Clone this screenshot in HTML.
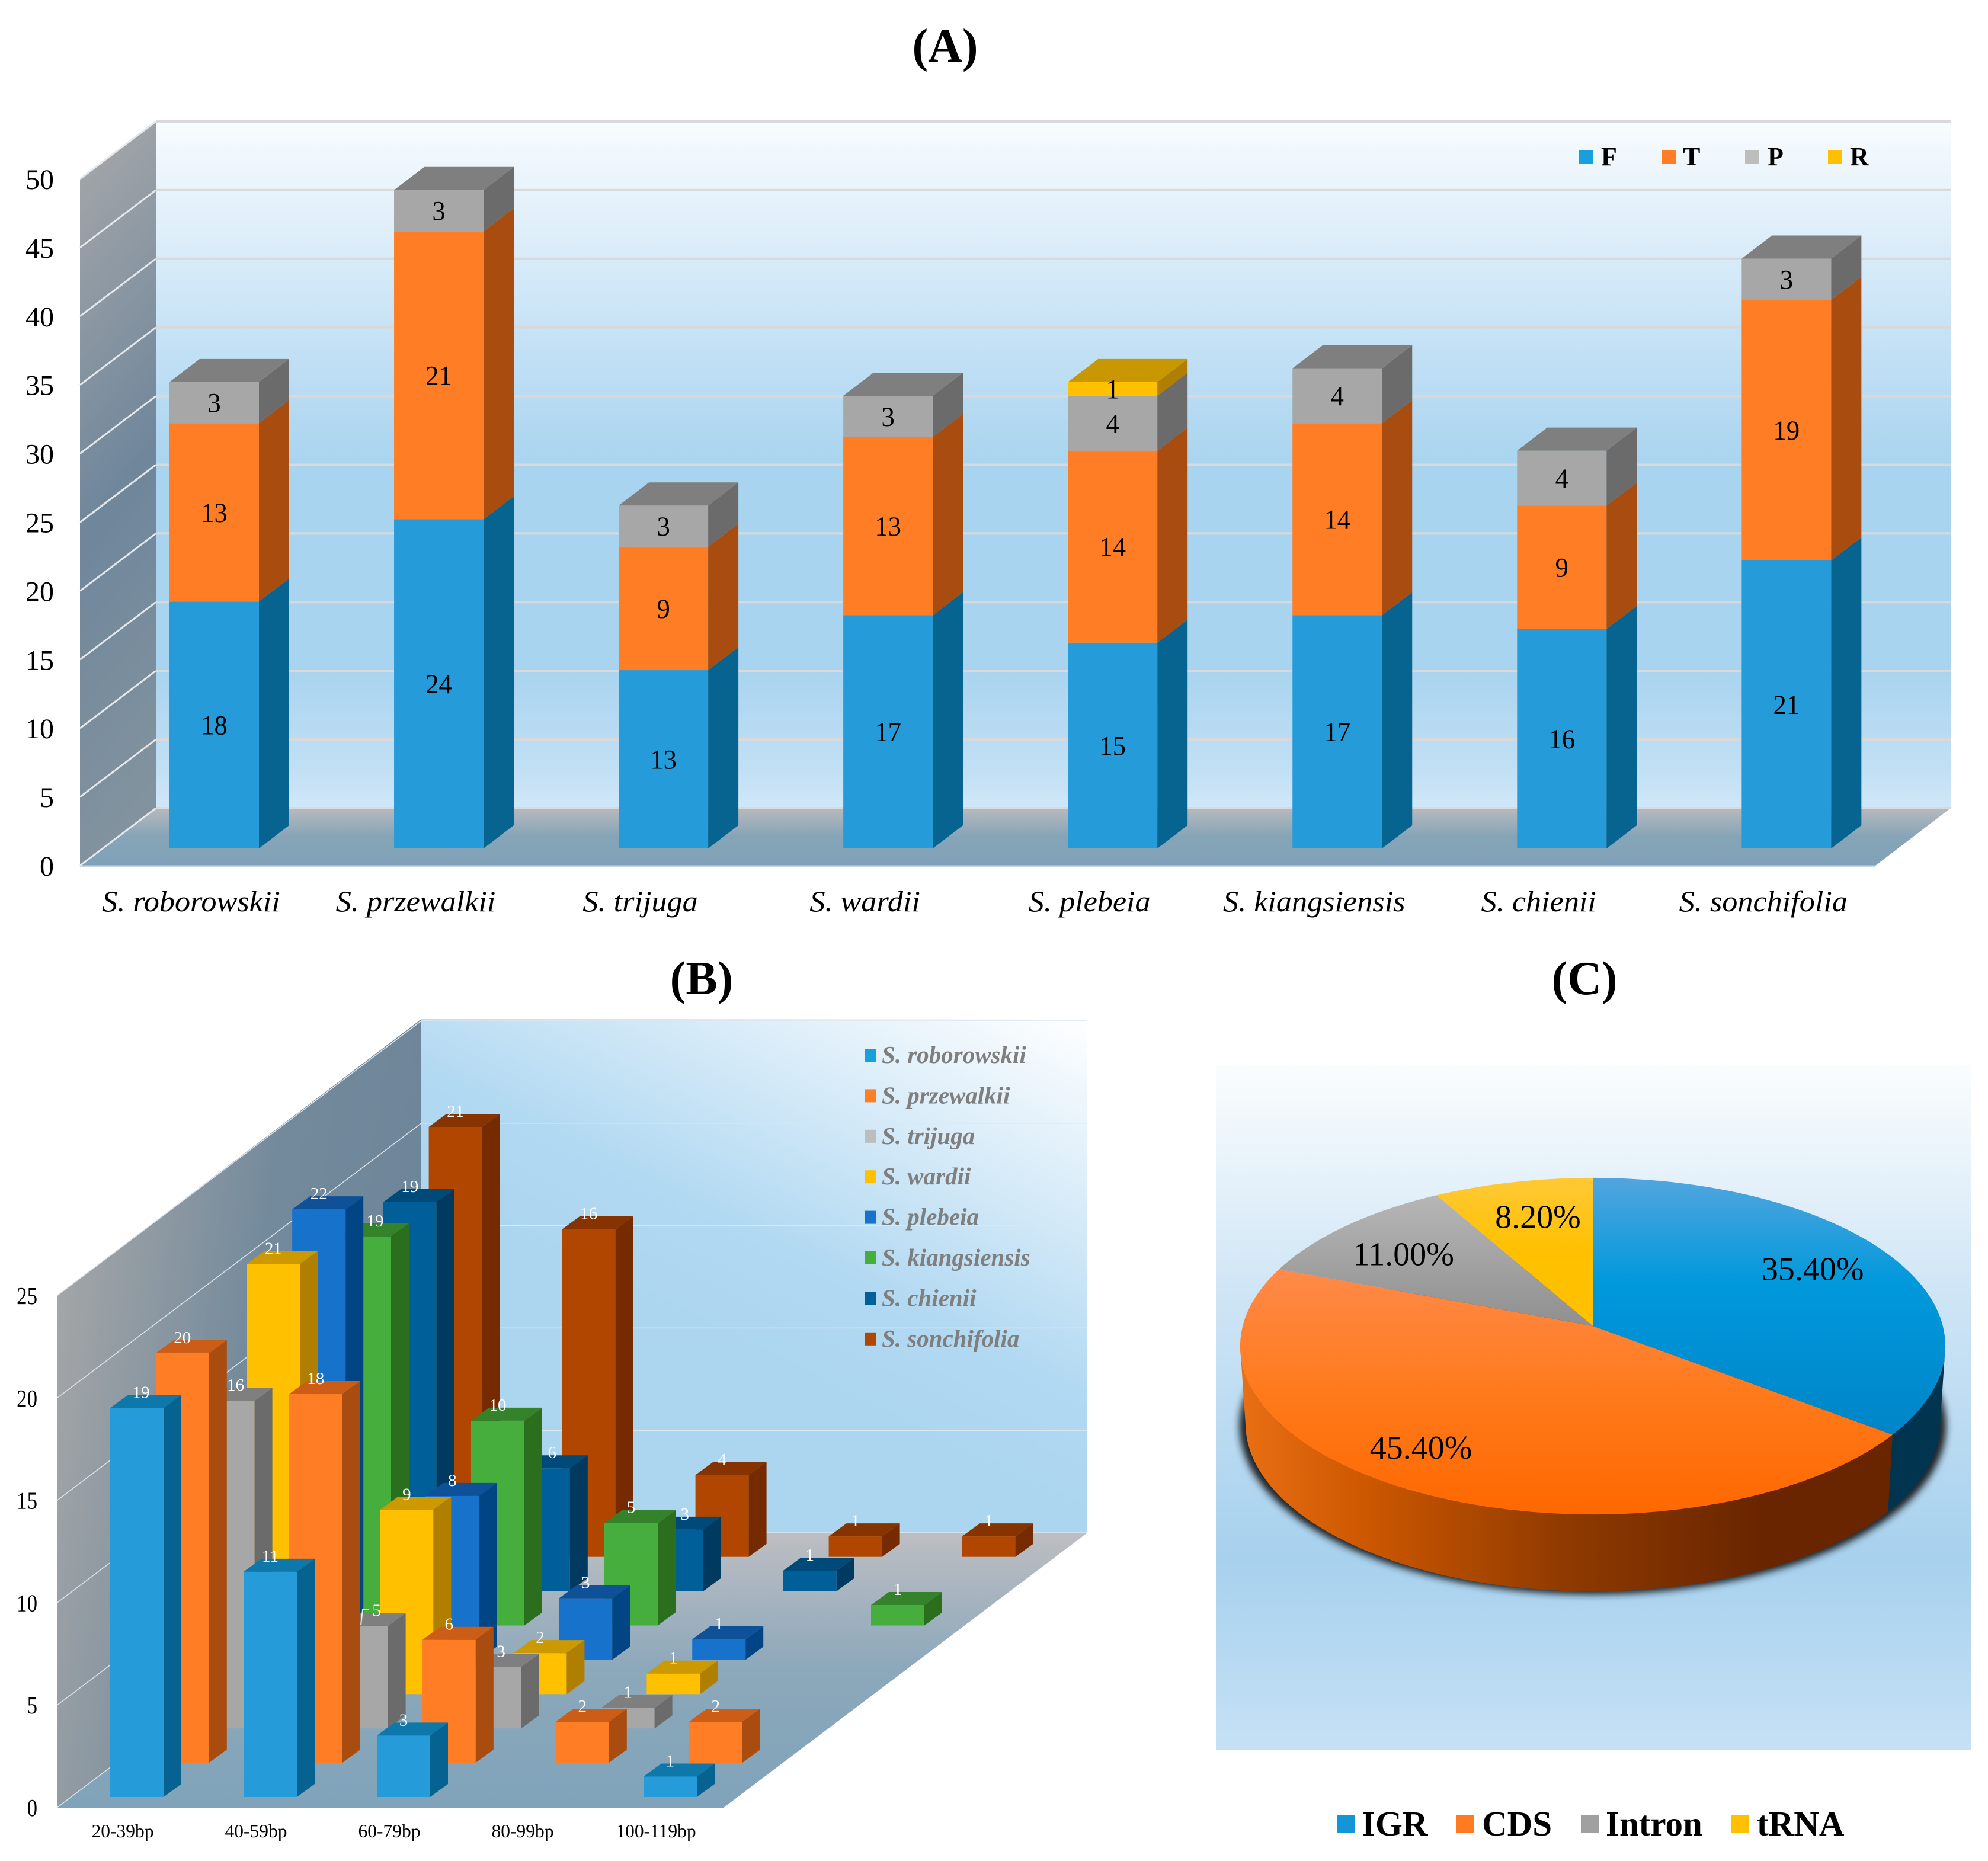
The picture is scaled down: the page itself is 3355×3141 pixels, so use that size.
<!DOCTYPE html>
<html lang="en">
<head>
<meta charset="utf-8">
<title>Charts A, B and C</title>
<style>
html,body{margin:0;padding:0;background:#fff;width:3355px;height:3141px;overflow:hidden}
svg{display:block;font-family:"Liberation Serif",serif}
</style>
</head>
<body>
<svg id="figure" xmlns="http://www.w3.org/2000/svg" width="3355" height="3141" viewBox="0 0 3355 3141">
<defs>
<linearGradient id="wallA" x1="0" y1="0" x2="0" y2="1">
<stop offset="0" stop-color="#f8fcff"/><stop offset=".1" stop-color="#e8f3fb"/><stop offset=".3" stop-color="#c8e3f6"/><stop offset=".5" stop-color="#a9d4ef"/><stop offset=".8" stop-color="#a9d4ef"/><stop offset=".95" stop-color="#c3e0f5"/><stop offset="1" stop-color="#d0e7f8"/>
</linearGradient>
<linearGradient id="sideA" x1="0" y1="0" x2=".12" y2="1">
<stop offset="0" stop-color="#a8a9aa"/><stop offset=".55" stop-color="#6f869b"/><stop offset="1" stop-color="#82939f"/>
</linearGradient>
<linearGradient id="floorA" x1="0" y1="0" x2="0" y2="1">
<stop offset="0" stop-color="#b7babf"/><stop offset=".5" stop-color="#86a4b7"/><stop offset="1" stop-color="#7fa2b8"/>
</linearGradient>
<linearGradient id="wallB" gradientUnits="userSpaceOnUse" x1="1835" y1="1720" x2="1500" y2="2400">
<stop offset="0" stop-color="#ffffff"/><stop offset=".35" stop-color="#dbedf9"/><stop offset=".75" stop-color="#b2d9f2"/><stop offset="1" stop-color="#acd5f0"/>
</linearGradient>
<linearGradient id="sideB" x1="0" y1=".2" x2="1" y2=".5">
<stop offset="0" stop-color="#a8a8a8"/><stop offset=".55" stop-color="#738a9c"/><stop offset="1" stop-color="#6d8599"/>
</linearGradient>
<linearGradient id="floorB" x1="0" y1="0" x2="0" y2="1">
<stop offset="0" stop-color="#bdbec2"/><stop offset=".5" stop-color="#8ca8bb"/><stop offset="1" stop-color="#80a3b9"/>
</linearGradient>
<linearGradient id="panelC" x1="0" y1="0" x2="0" y2="1">
<stop offset="0" stop-color="#fbfdfe"/><stop offset=".35" stop-color="#cde4f5"/><stop offset=".72" stop-color="#a7d1ee"/><stop offset="1" stop-color="#c6e1f5"/>
</linearGradient>
<linearGradient id="pieBlue" gradientUnits="userSpaceOnUse" x1="0" y1="1988" x2="0" y2="2430">
<stop offset="0" stop-color="#52a5de"/><stop offset=".4" stop-color="#0099dc"/><stop offset="1" stop-color="#0084c7"/>
</linearGradient>
<linearGradient id="pieOrange" gradientUnits="userSpaceOnUse" x1="0" y1="2140" x2="0" y2="2556">
<stop offset="0" stop-color="#ff8a4a"/><stop offset=".5" stop-color="#ff7a1c"/><stop offset="1" stop-color="#ff6800"/>
</linearGradient>
<linearGradient id="pieGray" gradientUnits="userSpaceOnUse" x1="0" y1="2018" x2="0" y2="2240">
<stop offset="0" stop-color="#b6b6b6"/><stop offset="1" stop-color="#8f8f8f"/>
</linearGradient>
<linearGradient id="pieYellow" gradientUnits="userSpaceOnUse" x1="0" y1="1988" x2="0" y2="2240">
<stop offset="0" stop-color="#ffc936"/><stop offset=".5" stop-color="#ffc000"/><stop offset="1" stop-color="#ffc000"/>
</linearGradient>
<linearGradient id="sideOrange" gradientUnits="userSpaceOnUse" x1="2093" y1="0" x2="3190" y2="0">
<stop offset="0" stop-color="#ea6f14"/><stop offset=".2" stop-color="#cb5700"/><stop offset=".5" stop-color="#8f3a00"/><stop offset=".8" stop-color="#692500"/><stop offset="1" stop-color="#692500"/>
</linearGradient>
<filter id="pieBlur" x="-10%" y="-10%" width="120%" height="120%"><feGaussianBlur stdDeviation="6"/></filter>
</defs>

<text x="1595" y="104" font-size="80" font-weight="bold" text-anchor="middle" fill="#000">(A)</text>
<text x="1184" y="1678" font-size="80" font-weight="bold" text-anchor="middle" fill="#000">(B)</text>
<text x="2674" y="1678" font-size="80" font-weight="bold" text-anchor="middle" fill="#000">(C)</text>

<g id="chartA">
<rect x="263" y="205" width="3029" height="1159" fill="url(#wallA)"/>
<polygon points="135,302 263,205 263,1364 135,1461" fill="url(#sideA)"/>
<polygon points="135,1461 263,1364 3292,1364 3165,1461" fill="url(#floorA)"/>
<line x1="135" y1="1462" x2="3165" y2="1462" stroke="#c8d8e2" stroke-width="3"/>
<g id="gridA"></g>
<g id="barsA"></g>
<g id="ticksA"></g>
<g id="catsA"></g>
<g>
<rect x="2665" y="253" width="24" height="23" fill="#16a0dc"/>
<text x="2702" y="279" font-size="44" font-weight="bold">F</text>
<rect x="2804" y="253" width="24" height="23" fill="#ff7d24"/>
<text x="2840" y="279" font-size="44" font-weight="bold">T</text>
<rect x="2945" y="253" width="24" height="23" fill="#bdbdbd"/>
<text x="2983" y="279" font-size="44" font-weight="bold">P</text>
<rect x="3085" y="253" width="24" height="23" fill="#ffc000"/>
<text x="3122" y="279" font-size="44" font-weight="bold">R</text>
</g>
</g>

<g id="chartB">
<rect x="711" y="1720" width="1124" height="867" fill="url(#wallB)"/>
<polygon points="96,2187 711,1720 711,2587 96,3051" fill="url(#sideB)"/>
<polygon points="96,3051 711,2587 1835,2587 1221,3051" fill="url(#floorB)"/>
<g id="gridB"></g>
<g id="barsB"></g>
<polyline points="609,2743 612,2717 622,2717" fill="none" stroke="#e8e8e8" stroke-width="2"/>
<g id="labelsB"></g>
<g id="ticksB"></g>
<g id="catsB"></g>
<g id="legendB"></g>
</g>

<g id="chartC">
<rect x="2052" y="1797" width="1274" height="1156" fill="url(#panelC)"/>
<g id="pie"></g>
<g>
<rect x="2256" y="3063" width="30" height="30" fill="#1296d8"/>
<text x="2298" y="3098" font-size="59" font-weight="bold">IGR</text>
<rect x="2458" y="3063" width="30" height="30" fill="#ff7a20"/>
<text x="2501" y="3098" font-size="59" font-weight="bold">CDS</text>
<rect x="2668" y="3063" width="30" height="30" fill="#a0a0a0"/>
<text x="2710" y="3098" font-size="59" font-weight="bold">Intron</text>
<rect x="2922" y="3063" width="30" height="30" fill="#ffc000"/>
<text x="2965" y="3098" font-size="59" font-weight="bold">tRNA</text>
</g>
</g>
</svg>

<script>
// ---- Chart A data ----
const speciesNames = ['S. roborowskii','S. przewalkii','S. trijuga','S. wardii','S. plebeia','S. kiangsiensis','S. chienii','S. sonchifolia'];
const seriesF = [18,24,13,17,15,17,16,21];
const seriesT = [13,21,9,13,14,14,9,19];
const seriesP = [3,3,3,3,4,4,4,3];
const seriesR = [0,0,0,0,1,0,0,0];
const ticksAValues = [0,5,10,15,20,25,30,35,40,45,50];

// ---- Chart B data (one array per species, one value per size class) ----
const sizeClasses = ['20-39bp','40-59bp','60-79bp','80-99bp','100-119bp'];
const bRoborowskii = [19,11,3,0,1];
const bPrzewalkii = [20,18,6,2,2];
const bTrijuga = [16,5,3,1,0];
const bWardii = [21,9,2,1,0];
const bPlebeia = [22,8,3,1,0];
const bKiangsiensis = [19,10,5,0,1];
const bChienii = [19,6,3,1,0];
const bSonchifolia = [21,16,4,1,1];
const ticksBValues = [0,5,10,15,20,25];

// ---- Chart C data ----
const pieNames = ['IGR','CDS','Intron','tRNA'];
const pieValues = [35.4,45.4,11.0,8.2];

const NS = 'http://www.w3.org/2000/svg';
function make(tag, attrs, parent){
  const el = document.createElementNS(NS, tag);
  for (const k in attrs) el.setAttribute(k, attrs[k]);
  parent.appendChild(el);
  return el;
}
function addText(parent, str, x, y, size, fill, scaleX, anchor){
  const el = make('text', {
    transform: 'translate(' + x + ',' + y + ') scale(' + scaleX + ',1)',
    'font-size': size, fill: fill, 'text-anchor': anchor
  }, parent);
  el.textContent = str;
  return el;
}
function kebab(s){ return s.toLowerCase().replace(/[^a-z0-9]+/g, '-'); }
function box(parent, name, x, yTop, yBot, w, dx, dy, cols, withTop){
  const front = make('rect', {x:x, y:yTop, width:w, height:yBot-yTop, fill:cols[0]}, parent);
  
  
  const side = make('polygon', {points:[[x+w,yTop],[x+w+dx,yTop-dy],[x+w+dx,yBot-dy],[x+w,yBot]].join(' '), fill:cols[2]}, parent);
  
  
  if (withTop){
    const top = make('polygon', {points:[[x,yTop],[x+dx,yTop-dy],[x+w+dx,yTop-dy],[x+w,yTop]].join(' '), fill:cols[1]}, parent);
    
    
  }
}

// ---- Chart A ----
const unitA = 23.18;
function aBackY(v){ return 1364 - v*unitA; }
function aFrontY(v){ return 1461 - v*unitA; }
function aBarY(v){ return 1432 - v*23.15; }
function aBarX(i){ return 286 + i*379.05; }
const barWA = 151, depthXA = 51, depthYA = 39;
const gridA = document.getElementById('gridA');
const ticksA = document.getElementById('ticksA');
ticksAValues.forEach(function(v){
  const g1 = make('line', {x1:263, x2:3292, y1:aBackY(v), y2:aBackY(v), stroke:'#d9d9d9', 'stroke-width':4}, gridA);
  
  
  const g2 = make('line', {x1:135, x2:263, y1:aFrontY(v), y2:aBackY(v), stroke:'#e4e8ea', 'stroke-width':3}, gridA);
  
  
  const t = addText(ticksA, String(v), 91, aFrontY(v)+17, 48, '#000', 1, 'end');
  
  
});
const catsA = document.getElementById('catsA');
speciesNames.forEach(function(n,i){
  const t = addText(catsA, n, aBarX(i)+barWA/2-39, 1538, 49.5, '#000', 1.055, 'middle');
  t.setAttribute('font-style', 'italic');
  
  
});
const barsA = document.getElementById('barsA');
const stackA = [
  {key:'f', vals:seriesF, cols:['#259bda','#0f78aa','#076491']},
  {key:'t', vals:seriesT, cols:['#ff7d24','#cc5d17','#a84d0f']},
  {key:'p', vals:seriesP, cols:['#a7a7a7','#7f7f7f','#6b6b6b']},
  {key:'r', vals:seriesR, cols:['#ffc000','#c99700','#b07f00']}
];
speciesNames.forEach(function(n,i){
  let base = 0;
  let lastIdx = 0;
  stackA.forEach(function(s,k){ if (s.vals[i] > 0) lastIdx = k; });
  stackA.forEach(function(s,k){
    const v = s.vals[i];
    if (v <= 0) return;
    box(barsA, 'bar-' + kebab(n) + '-' + s.key, aBarX(i), aBarY(base+v), aBarY(base), barWA, depthXA, depthYA, s.cols, k === lastIdx);
    const t = addText(barsA, String(v), aBarX(i)+barWA/2, (aBarY(base)+aBarY(base+v))/2+16, 47, '#000', 0.95, 'middle');
    
    
    base += v;
  });
});

// ---- Chart B ----
const unitB = 34.56;
function bBarX(series, cat){ return 186 + series*76.8 + cat*225; }
function bBarBase(series){ return 3033 - series*57.9; }
function bWallFront(v){ return 3051 - v*unitB; }
function bWallBack(v){ return 2587 - v*unitB; }
const barWB = 90, depthXB = 30, depthYB = 22;
const speciesB = [
  {vals:bRoborowskii, cols:['#259bda','#0f78aa','#066290'], sw:'#16a0dc'},
  {vals:bPrzewalkii, cols:['#ff7d24','#cc5d17','#a84d0f'], sw:'#ff7d24'},
  {vals:bTrijuga, cols:['#a7a7a7','#7f7f7f','#6b6b6b'], sw:'#bdbdbd'},
  {vals:bWardii, cols:['#ffc000','#cc9900','#b07f00'], sw:'#ffc000'},
  {vals:bPlebeia, cols:['#1772cc','#0f5199','#024585'], sw:'#1772cc'},
  {vals:bKiangsiensis, cols:['#46ae3c','#348229','#2a6e1e'], sw:'#46ae3c'},
  {vals:bChienii, cols:['#005f99','#004a7a','#003a60'], sw:'#005f99'},
  {vals:bSonchifolia, cols:['#b04600','#873300','#752a00'], sw:'#b04600'}
];
const labelShift = {'0,0':7, '2,0':13, '2,1':26, '2,2':11, '5,0':18, '6,1':15, '6,2':14};
const gridB = document.getElementById('gridB');
const ticksB = document.getElementById('ticksB');
ticksBValues.forEach(function(v){
  const g1 = make('line', {x1:96, x2:711, y1:bWallFront(v), y2:bWallBack(v), stroke:'#dfe4e8', 'stroke-width':1.5}, gridB);
  
  
  const g2 = make('line', {x1:711, x2:1835, y1:bWallBack(v), y2:bWallBack(v), stroke:'#dbe6ee', 'stroke-width':1.5}, gridB);
  
  
  const t = addText(ticksB, String(v), 63, bWallFront(v)+14, 41, '#000', 0.85, 'end');
  
  
});
const catsB = document.getElementById('catsB');
sizeClasses.forEach(function(c,i){
  const t = addText(catsB, c, bBarX(0,i)+21, 3101, 31.5, '#000', 1, 'middle');
  
  
});
const barsB = document.getElementById('barsB');
const labelsB = document.getElementById('labelsB');
for (let s = speciesB.length-1; s >= 0; s--){
  const sp = speciesB[s];
  sizeClasses.forEach(function(c,i){
    const v = sp.vals[i];
    if (v <= 0) return;
    const yBot = bBarBase(s);
    const yTop = yBot - v*unitB;
    box(barsB, 'bar-' + kebab(speciesNames[s]) + '-' + c, bBarX(s,i), yTop, yBot, barWB, depthXB, depthYB, sp.cols, true);
    const nudge = labelShift[s + ',' + i] || 0;
    const t = addText(labelsB, String(v), bBarX(s,i)+45+nudge, yTop-17, 29, '#fff', 1, 'middle');
    
    
  });
}
const legendB = document.getElementById('legendB');
speciesNames.forEach(function(n,i){
  const yc = 1781 + i*68.4;
  const r = make('rect', {x:1459, y:yc-11, width:20, height:22, fill:speciesB[i].sw}, legendB);
  
  
  const t = addText(legendB, n, 1488, yc+13, 41, '#7f7f7f', 1, 'start');
  t.setAttribute('font-style', 'italic');
  t.setAttribute('font-weight', 'bold');
  
  
});

// ---- Chart C ----
const pieCx = 2688, pieApexY = 2238, pieA = 280, pieD = 590.8, pieC = -0.1197;
const pieDepth = 130;
const pieVisStart = 26.9, pieVisEnd = 73.1;
function piePoint(pct, r){
  const th = pct/100*2*Math.PI;
  const x = Math.sin(th)*r, y = -Math.cos(th)*r;
  const den = 1 + pieC*y;
  return [pieCx + pieD*x/den, pieApexY + pieA*y/den];
}
function pieBottom(pct){
  const p = piePoint(pct, 1);
  return [pieCx + (p[0]-pieCx)*0.985, p[1] + pieDepth];
}
function arcPts(fn, a, b){
  const pts = [];
  const n = Math.max(2, Math.ceil(Math.abs(b-a)/0.5));
  for (let i = 0; i <= n; i++) pts.push(fn(a + (b-a)*i/n));
  return pts;
}
function toPath(pts){
  return 'M' + pts.map(function(p){ return p[0].toFixed(1) + ' ' + p[1].toFixed(1); }).join('L') + 'Z';
}
const pieFills = ['url(#pieBlue)','url(#pieOrange)','url(#pieGray)','url(#pieYellow)'];
const pieSideFills = ['#00344f','url(#sideOrange)','#5c5c5c','#9c7600'];
const pieG = document.getElementById('pie');
const shadow = make('path', {
  d: toPath(arcPts(function(p){ const q = piePoint(p,1); return [pieCx + (q[0]-pieCx)*1.002, q[1] + pieDepth + 5]; }, 0, 100)),
  fill:'#1c2328', filter:'url(#pieBlur)'
}, pieG);


let cumSide = 0;
pieValues.forEach(function(v,i){
  const a = Math.max(cumSide, pieVisStart), b = Math.min(cumSide+v, pieVisEnd);
  cumSide += v;
  if (b <= a) return;
  const top = arcPts(function(p){ return piePoint(p,1); }, a, b);
  const bot = arcPts(pieBottom, a, b).reverse();
  const sd = make('path', {d:toPath(top.concat(bot)), fill:pieSideFills[i]}, pieG);
  
  
});
let cumTop = 0;
pieValues.forEach(function(v,i){
  const pts = [[pieCx, pieApexY]].concat(arcPts(function(p){ return piePoint(p,1); }, cumTop, cumTop+v));
  const sl = make('path', {d:toPath(pts), fill:pieFills[i]}, pieG);
  
  
  cumTop += v;
});
let cumLab = 0;
pieValues.forEach(function(v,i){
  const p = piePoint(cumLab + v/2, 0.74);
  cumLab += v;
  const nudgeX = [-6,-59,-6,10][i], nudgeY = [-8,9,6,0][i];
  const t = addText(pieG, v.toFixed(2) + '%', p[0]+nudgeX, p[1]+nudgeY+19, 56, '#000', 1, 'middle');
  
  
});
</script>
</body>
</html>
